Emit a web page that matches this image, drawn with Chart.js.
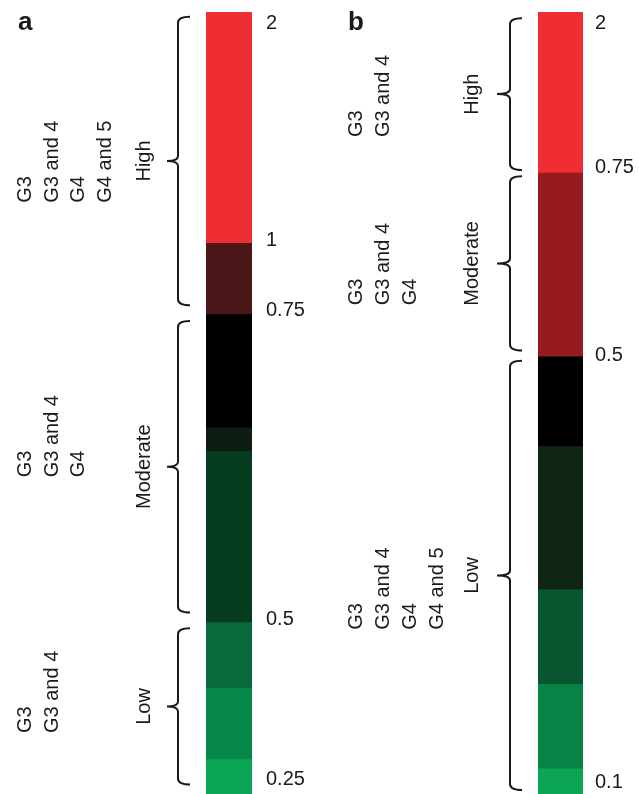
<!DOCTYPE html>
<html lang="en">
    <head>
        <meta charset="UTF-8">
        <title>Risk scales</title>
        <script src="https://cdn.jsdelivr.net/npm/chart.js@4.4.1/dist/chart.umd.min.js"></script>
        <style>
            body { margin: 0; background: #fff; }
            .pannelli { display: flex; width: 639px; height: 794px; }
            canvas { display: block; }
        </style>
    </head>
    <body>
        <div class="pannelli">
            <canvas id="chartA" width="320" height="794"></canvas>
            <canvas id="chartB" width="319" height="794"></canvas>
        </div>
    </body>
    <script>
        // panel a: segment boundaries (percent of bar height, top to bottom)
        const boundsA = [100, 70.5, 61.4, 46.9, 43.9, 22.0, 13.6, 4.5, 0];
        const colorsA = ['#ee2e33', '#4a1618', '#000000', '#0e1d13', '#063c1f', '#086a3b', '#08874a', '#0ba655'];
        const tickPosA = [98.5, 70.8, 61.8, 22.3, 1.8];
        const tickLabelsA = ['2', '1', '0.75', '0.5', '0.25'];
        const groupsA = ['High', 'Moderate', 'Low'];
        const groupFromA = [99.4, 60.5, 21.2];
        const groupToA = [62.5, 23.2, 1.2];
        const gradesA = [['G3', 'G3 and 4', 'G4', 'G4 and 5'], ['G3', 'G3 and 4', 'G4'], ['G3', 'G3 and 4']];

        // panel b
        const boundsB = [100, 79.5, 56.0, 44.5, 26.2, 14.1, 3.3, 0];
        const colorsB = ['#ee2e33', '#961b1f', '#000000', '#0f2617', '#075630', '#078345', '#0ba554'];
        const tickPosB = [98.5, 80.1, 56.1, 1.5];
        const tickLabelsB = ['2', '0.75', '0.5', '0.1'];
        const groupsB = ['High', 'Moderate', 'Low'];
        const groupFromB = [99.2, 79.0, 55.4];
        const groupToB = [79.8, 56.7, 0.5];
        const gradesB = [['G3', 'G3 and 4'], ['G3', 'G3 and 4', 'G4'], ['G3', 'G3 and 4', 'G4', 'G4 and 5']];

        const FONT = '"Liberation Sans", Arial, Helvetica, sans-serif';
        const INK = '#1a1a1a';

        // brackets, group names and grade lists drawn next to the bar
        const bracePlugin = {
            id: 'braces',
            afterDraw(chart, args, opts) {
                const ctx = chart.ctx;
                const y = chart.scales.y;
                ctx.save();
                ctx.fillStyle = INK;
                ctx.strokeStyle = INK;
                ctx.font = 'bold 26px ' + FONT;
                ctx.textBaseline = 'alphabetic';
                ctx.fillText(opts.letter, opts.letterX, 30);

                for (let i = 0; i < opts.from.length; i++) {
                    const top = y.getPixelForValue(opts.from[i]);
                    const bot = y.getPixelForValue(opts.to[i]);
                    const mid = (top + bot) / 2;
                    const bx = opts.braceX;
                    ctx.lineWidth = 2;
                    ctx.beginPath();
                    ctx.moveTo(bx + opts.hook, top);
                    ctx.quadraticCurveTo(bx, top, bx, top + 6);
                    ctx.lineTo(bx, mid - 5);
                    ctx.quadraticCurveTo(bx, mid, bx - opts.tip, mid);
                    ctx.quadraticCurveTo(bx, mid, bx, mid + 5);
                    ctx.lineTo(bx, bot - 6);
                    ctx.quadraticCurveTo(bx, bot, bx + opts.hook, bot);
                    ctx.stroke();

                    ctx.font = '20px ' + FONT;
                    ctx.textBaseline = 'middle';
                    ctx.save();
                    ctx.translate(opts.labelX, mid);
                    ctx.rotate(-Math.PI / 2);
                    ctx.textAlign = 'center';
                    ctx.fillText(opts.names[i], 0, 0);
                    ctx.restore();

                    const base = y.getPixelForValue(opts.gradeBase[i]);
                    opts.grades[i].forEach((g, j) => {
                        ctx.save();
                        ctx.translate(opts.cols[j], base);
                        ctx.rotate(-Math.PI / 2);
                        ctx.textAlign = 'left';
                        ctx.fillText(g, 0, 0);
                        ctx.restore();
                    });
                }
                ctx.restore();
            }
        };

        function creaScala(id, bounds, colors, tickPos, tickLabels, axisWidth, leftPad, tickPad, extra) {
            const datasets = colors.map((c, i) => ({
                data: [[bounds[i + 1], bounds[i]]],
                backgroundColor: c,
                borderWidth: 0,
                grouped: false,
                barPercentage: 1,
                categoryPercentage: 1
            }));
            return new Chart(id, {
                type: 'bar',
                data: { labels: [''], datasets: datasets },
                options: {
                    responsive: false,
                    animation: false,
                    layout: { padding: { left: leftPad, top: 12, bottom: 0, right: 0 } },
                    plugins: {
                        legend: { display: false },
                        tooltip: { enabled: false },
                        braces: extra
                    },
                    scales: {
                        x: { display: false },
                        y: {
                            position: 'right',
                            min: 0,
                            max: 100,
                            border: { display: false },
                            grid: { display: false, drawTicks: false },
                            afterBuildTicks: (s) => { s.ticks = tickPos.map(v => ({ value: v })); },
                            afterFit: (s) => { s.width = axisWidth; s.paddingTop = 0; s.paddingBottom = 0; },
                            ticks: {
                                padding: tickPad,
                                color: INK,
                                font: { family: FONT, size: 20 },
                                callback: (v, i) => tickLabels[i]
                            }
                        }
                    }
                },
                plugins: [bracePlugin]
            });
        }

        creaScala('chartA', boundsA, colorsA, tickPosA, tickLabelsA, 68, 206, 14, {
            letter: 'a', letterX: 18,
            from: groupFromA, to: groupToA, names: groupsA, grades: gradesA,
            gradeBase: [75.6, 40.5, 7.8],
            braceX: 178, hook: 12, tip: 11, labelX: 144,
            cols: [25, 52, 78, 105]
        });

        creaScala('chartB', boundsB, colorsB, tickPosB, tickLabelsB, 56, 218, 12, {
            letter: 'b', letterX: 28,
            from: groupFromB, to: groupToB, names: groupsB, grades: gradesB,
            gradeBase: [84.0, 62.5, 21.0],
            braceX: 190, hook: 12, tip: 13, labelX: 152,
            cols: [36, 63, 90, 117]
        });
    </script>
</html>
